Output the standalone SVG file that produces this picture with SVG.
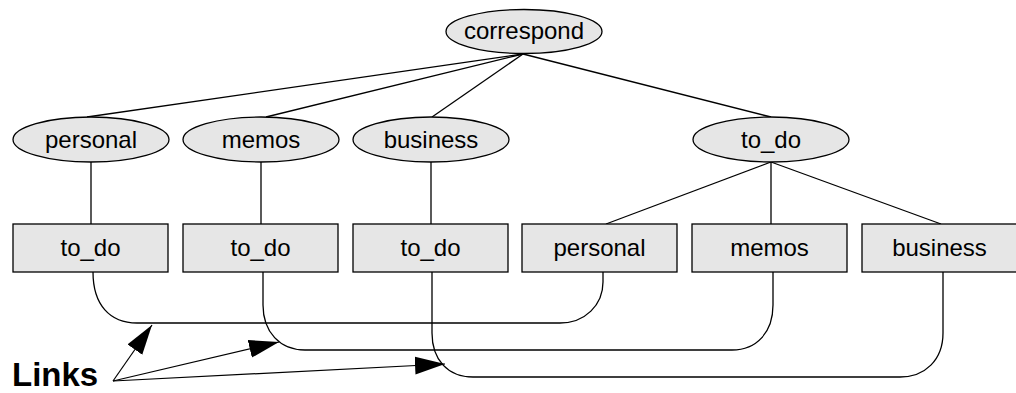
<svg xmlns="http://www.w3.org/2000/svg" width="1016" height="393" viewBox="0 0 1016 393">
<style>
.n{fill:#e6e6e6;stroke:#000;stroke-width:1.3}
.t{font-family:"Liberation Sans",Arial,sans-serif;font-size:24px;text-anchor:middle;fill:#000}
.c{fill:none;stroke:#000;stroke-width:1.3}
.a{fill:none;stroke:#000;stroke-width:1.2}
</style>
<defs>
<marker id="ah" markerUnits="userSpaceOnUse" markerWidth="32" markerHeight="20" refX="30" refY="9" orient="auto">
<path d="M0,0 L30,9 L0,18 z" fill="#000"/>
</marker>
</defs>
<g id="connectors">
<line class="c" x1="523" y1="54" x2="87" y2="117"/>
<line class="c" x1="523" y1="54" x2="266" y2="117"/>
<line class="c" x1="523" y1="54" x2="432" y2="117"/>
<line class="c" x1="523" y1="54" x2="771" y2="117"/>
<line class="c" x1="91" y1="162" x2="91" y2="224"/>
<line class="c" x1="261" y1="162" x2="261" y2="224"/>
<line class="c" x1="431" y1="162" x2="431" y2="224"/>
<line class="c" x1="771" y1="162" x2="606" y2="224"/>
<line class="c" x1="771" y1="162" x2="771" y2="224"/>
<line class="c" x1="771" y1="162" x2="941" y2="224"/>
<path class="c" d="M93,272 C93,305 110,323 137,323 L560,323 C585,323 603,305 603,282 L603,272"/>
<path class="c" d="M263,272 L263,305 C263,332 280,350 305,350 L732,350 C757,350 773,332 773,305 L773,272"/>
<path class="c" d="M432,272 L432,333 C432,360 448,377 473,377 L900,377 C925,377 943,360 943,333 L943,272"/>
<line class="a" x1="113" y1="381" x2="152" y2="325" marker-end="url(#ah)"/>
<line class="a" x1="113" y1="381" x2="279" y2="342" marker-end="url(#ah)"/>
<line class="a" x1="113" y1="381" x2="445" y2="364" marker-end="url(#ah)"/>
</g>
<g id="correspond"><ellipse class="n" cx="524" cy="31.5" rx="78" ry="22"/><text class="t" x="524" y="39">correspond</text></g>
<g id="personal"><ellipse class="n" cx="91" cy="139.5" rx="78" ry="22.5"/><text class="t" x="91" y="147.5">personal</text></g>
<g id="memos"><ellipse class="n" cx="261" cy="139.5" rx="78" ry="22.5"/><text class="t" x="261" y="147.5">memos</text></g>
<g id="business"><ellipse class="n" cx="431" cy="139.5" rx="78" ry="22.5"/><text class="t" x="431" y="147.5">business</text></g>
<g id="to_do"><ellipse class="n" cx="771" cy="139.5" rx="78" ry="22.5"/><text class="t" x="771" y="147.5">to_do</text></g>
<g id="r1"><rect class="n" x="13" y="224" width="155" height="48"/><text class="t" x="90.5" y="256">to_do</text></g>
<g id="r2"><rect class="n" x="183" y="224" width="155" height="48"/><text class="t" x="260.5" y="256">to_do</text></g>
<g id="r3"><rect class="n" x="353" y="224" width="155" height="48"/><text class="t" x="430.5" y="256">to_do</text></g>
<g id="r4"><rect class="n" x="522" y="224" width="155" height="48"/><text class="t" x="599.5" y="256">personal</text></g>
<g id="r5"><rect class="n" x="692" y="224" width="155" height="48"/><text class="t" x="769.5" y="256">memos</text></g>
<g id="r6"><rect class="n" x="862" y="224" width="155" height="48"/><text class="t" x="939.5" y="256">business</text></g>
<g id="links"><text x="12" y="386" style="font-family:'Liberation Sans',Arial,sans-serif;font-size:33px;font-weight:bold">Links</text></g>
</svg>
